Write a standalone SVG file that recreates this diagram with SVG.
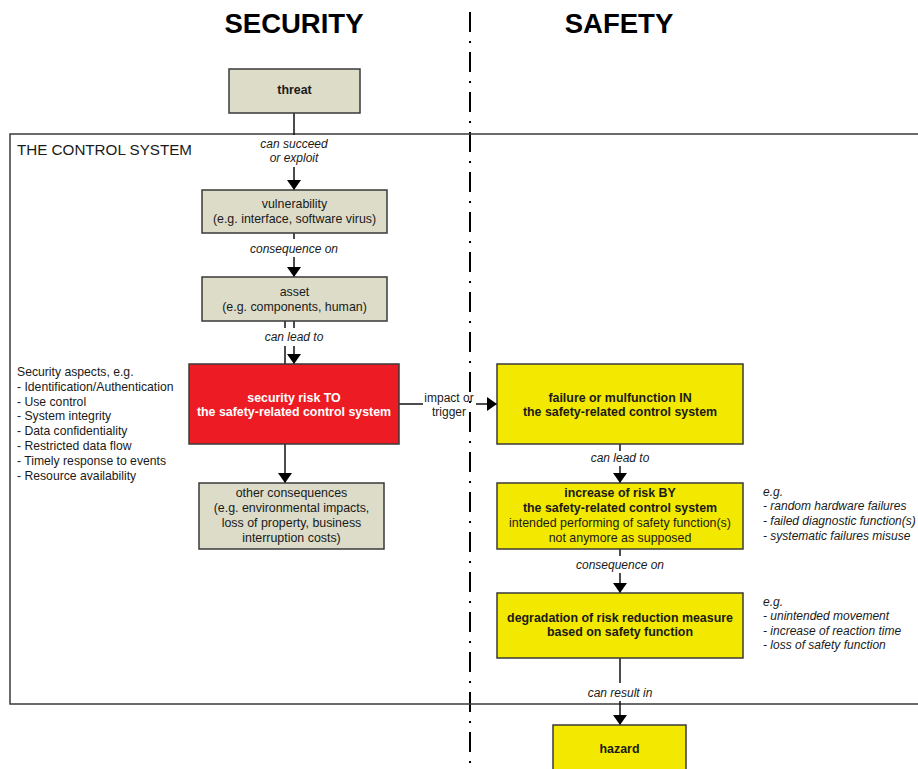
<svg xmlns="http://www.w3.org/2000/svg" width="918" height="769" viewBox="0 0 918 769">
<defs>
<style>
text{font-family:"Liberation Sans",Arial,sans-serif;fill:#1a1a1a}
.t{font-size:12.4px;text-anchor:middle}
.b{font-weight:bold}
.i{font-style:italic;font-size:12px}
.l{font-size:12.2px}
.w{fill:#ffffff}
.title{font-size:27.5px;font-weight:bold;text-anchor:middle;fill:#000}
.grey{fill:#dcdcc8;stroke:#3a3a3a;stroke-width:1.5}
.red{fill:#ed1c24;stroke:#3a3a3a;stroke-width:1.5}
.yel{fill:#f3e800;stroke:#3a3a3a;stroke-width:1.5}
.c{stroke:#111;stroke-width:1.5;fill:none}
</style>
<marker id="ah" viewBox="0 0 10 14" refX="10" refY="7" markerWidth="10" markerHeight="14" markerUnits="userSpaceOnUse" orient="auto">
<path d="M0,0 L10,7 L0,14 Z" fill="#000"/>
</marker>
</defs>
<rect width="918" height="769" fill="#fff"/>

<g id="titles">
<text class="title" x="294" y="33">SECURITY</text>
<text class="title" x="619" y="33">SAFETY</text>
</g>

<g id="divider">
<line x1="470" y1="12" x2="470" y2="769" stroke="#000" stroke-width="2" stroke-dasharray="20 9 2 9"/>
</g>

<g id="control-system">
<path d="M930,134 H10 V704 H930" fill="none" stroke="#3a3a3a" stroke-width="1.5"/>
<text x="17" y="155" style="font-size:15.2px">THE CONTROL SYSTEM</text>
</g>

<g id="connectors">
<line class="c" x1="294" y1="113" x2="294" y2="135"/>
<line class="c" x1="294" y1="167" x2="294" y2="190" marker-end="url(#ah)"/>
<text class="t i" x="294" y="148">can succeed</text>
<text class="t i" x="294" y="162">or exploit</text>

<line class="c" x1="294" y1="233" x2="294" y2="239"/>
<line class="c" x1="294" y1="257" x2="294" y2="277" marker-end="url(#ah)"/>
<text class="t i" x="294" y="253">consequence on</text>

<line class="c" x1="285" y1="321" x2="285" y2="328"/>
<line class="c" x1="294" y1="321" x2="294" y2="328"/>
<line class="c" x1="285" y1="346" x2="285" y2="364"/>
<line class="c" x1="294" y1="346" x2="294" y2="364" marker-end="url(#ah)"/>
<text class="t i" x="294" y="341">can lead to</text>

<line class="c" x1="285" y1="444" x2="285" y2="483" marker-end="url(#ah)"/>

<line class="c" x1="399" y1="404" x2="423" y2="404"/>
<line class="c" x1="476" y1="404" x2="497" y2="404" marker-end="url(#ah)"/>
<text class="t" x="449" y="402" style="font-size:12px">impact or</text>
<text class="t" x="449" y="416" style="font-size:12px">trigger</text>

<line class="c" x1="620" y1="444" x2="620" y2="451"/>
<line class="c" x1="620" y1="466" x2="620" y2="483" marker-end="url(#ah)"/>
<text class="t i" x="620" y="462">can lead to</text>

<line class="c" x1="620" y1="549" x2="620" y2="556"/>
<line class="c" x1="620" y1="573" x2="620" y2="593" marker-end="url(#ah)"/>
<text class="t i" x="620" y="569">consequence on</text>

<line class="c" x1="620" y1="658" x2="620" y2="683"/>
<line class="c" x1="620" y1="701" x2="620" y2="725" marker-end="url(#ah)"/>
<text class="t i" x="620" y="697">can result in</text>
</g>

<g id="threat">
<rect class="grey" x="229" y="69" width="131" height="44"/>
<text class="t b" x="294.5" y="94">threat</text>
</g>

<g id="vulnerability">
<rect class="grey" x="202" y="190" width="185" height="43"/>
<text class="t" x="294.5" y="208">vulnerability</text>
<text class="t" x="294.5" y="223">(e.g. interface, software virus)</text>
</g>

<g id="asset">
<rect class="grey" x="202" y="277" width="185" height="44"/>
<text class="t" x="294.5" y="296">asset</text>
<text class="t" x="294.5" y="311">(e.g. components, human)</text>
</g>

<g id="security-aspects">
<text class="l" x="17" y="376">Security aspects, e.g.</text>
<text class="l" x="17" y="391">- Identification/Authentication</text>
<text class="l" x="17" y="406">- Use control</text>
<text class="l" x="17" y="420">- System integrity</text>
<text class="l" x="17" y="435">- Data confidentiality</text>
<text class="l" x="17" y="450">- Restricted data flow</text>
<text class="l" x="17" y="465">- Timely response to events</text>
<text class="l" x="17" y="480">- Resource availability</text>
</g>

<g id="security-risk">
<rect class="red" x="189" y="364" width="210" height="80"/>
<text class="t b w" x="294" y="402">security risk TO</text>
<text class="t b w" x="294" y="416">the safety-related control system</text>
</g>

<g id="other-consequences">
<rect class="grey" x="199" y="483" width="185" height="66"/>
<text class="t" x="291.5" y="497">other consequences</text>
<text class="t" x="291.5" y="512">(e.g. environmental impacts,</text>
<text class="t" x="291.5" y="527">loss of property, business</text>
<text class="t" x="291.5" y="542">interruption costs)</text>
</g>

<g id="failure">
<rect class="yel" x="497" y="364" width="246" height="80"/>
<text class="t b" x="620" y="402">failure or mulfunction IN</text>
<text class="t b" x="620" y="416">the safety-related control system</text>
</g>

<g id="increase-of-risk">
<rect class="yel" x="497" y="483" width="246" height="66"/>
<text class="t b" x="620" y="497">increase of risk BY</text>
<text class="t b" x="620" y="512">the safety-related control system</text>
<text class="t" x="620" y="527">intended performing of safety function(s)</text>
<text class="t" x="620" y="542">not anymore as supposed</text>
</g>

<g id="failures-examples">
<text class="i" x="763" y="496">e.g.</text>
<text class="i" x="763" y="510">- random hardware failures</text>
<text class="i" x="763" y="525">- failed diagnostic function(s)</text>
<text class="i" x="763" y="540">- systematic failures misuse</text>
</g>

<g id="degradation">
<rect class="yel" x="497" y="593" width="246" height="65"/>
<text class="t b" x="620" y="622">degradation of risk reduction measure</text>
<text class="t b" x="620" y="636">based on safety function</text>
</g>

<g id="degradation-examples">
<text class="i" x="763" y="606">e.g.</text>
<text class="i" x="763" y="620">- unintended movement</text>
<text class="i" x="763" y="635">- increase of reaction time</text>
<text class="i" x="763" y="649">- loss of safety function</text>
</g>

<g id="hazard">
<rect class="yel" x="553" y="725" width="133" height="60"/>
<text class="t b" x="619.5" y="753">hazard</text>
</g>
</svg>
